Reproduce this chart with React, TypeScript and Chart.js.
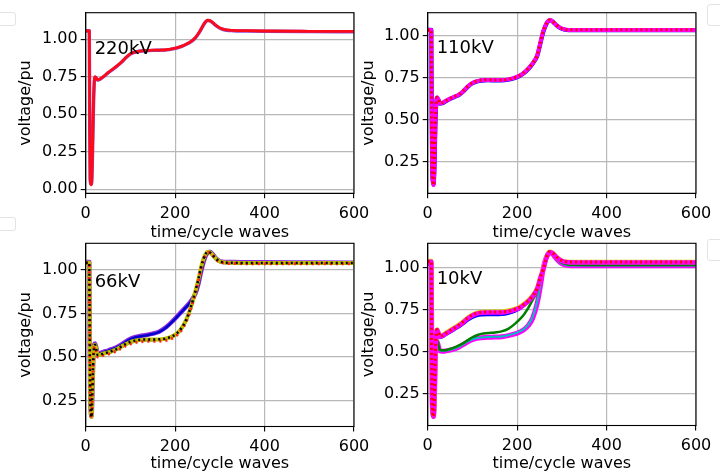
import React, { useEffect, useRef } from "react";
import { Chart, registerables } from "chart.js";

Chart.register(...registerables);

// ---------------- DATA ----------------
const timeCycles = [0, 8, 9, 10, 12, 13, 15, 17, 19, 21, 24, 27, 32, 40, 50, 60, 70, 80, 90, 100, 110, 120, 135, 150, 165, 180, 195, 205, 215, 225, 235, 245, 252, 258, 263, 268, 273, 278, 284, 290, 297, 305, 315, 330, 360, 400, 500, 600];

const xTickValues = [0, 200, 400, 600];
const yTicks220 = [0, 0.25, 0.5, 0.75, 1.0];
const yTicksOther = [0.25, 0.5, 0.75, 1.0];

const panelLabels = ["220kV", "110kV", "66kV", "10kV"];
const panelLabelX = [20, 20, 20, 20];
const panelLabelY = [0.9, 0.9, 0.9, 0.9];

const xTitle = "time/cycle waves";
const yTitle = "voltage/pu";

// 220kV
const v220Violet = [1.057, 1.057, 0.42, 0.07, 0.035, 0.035, 0.2, 0.5, 0.7, 0.745, 0.738, 0.728, 0.733, 0.75, 0.776, 0.798, 0.821, 0.846, 0.876, 0.901, 0.913, 0.92, 0.924, 0.926, 0.927, 0.929, 0.936, 0.943, 0.953, 0.966, 0.983, 1.008, 1.036, 1.066, 1.093, 1.115, 1.125, 1.122, 1.11, 1.094, 1.079, 1.067, 1.06, 1.057, 1.055, 1.053, 1.051, 1.05];
const v220Red = [1.055, 1.055, 0.4, 0.06, 0.03, 0.03, 0.22, 0.52, 0.71, 0.75, 0.74, 0.73, 0.735, 0.752, 0.778, 0.8, 0.823, 0.848, 0.878, 0.903, 0.915, 0.921, 0.925, 0.927, 0.928, 0.93, 0.937, 0.944, 0.954, 0.967, 0.984, 1.01, 1.038, 1.068, 1.095, 1.117, 1.127, 1.124, 1.112, 1.096, 1.081, 1.069, 1.062, 1.059, 1.057, 1.055, 1.053, 1.052];

// 110kV
const v110Blue = [1.037, 1.037, 0.52, 0.21, 0.125, 0.115, 0.21, 0.45, 0.59, 0.63, 0.618, 0.596, 0.598, 0.61, 0.624, 0.636, 0.648, 0.67, 0.698, 0.718, 0.728, 0.734, 0.736, 0.735, 0.735, 0.739, 0.749, 0.76, 0.778, 0.803, 0.836, 0.882, 0.955, 1.02, 1.057, 1.083, 1.094, 1.089, 1.074, 1.059, 1.047, 1.039, 1.035, 1.035, 1.035, 1.035, 1.035, 1.035];
const v110Magenta = [1.036, 1.036, 0.5, 0.2, 0.12, 0.11, 0.22, 0.46, 0.6, 0.635, 0.62, 0.598, 0.6, 0.612, 0.626, 0.638, 0.65, 0.672, 0.7, 0.72, 0.73, 0.736, 0.738, 0.737, 0.737, 0.741, 0.751, 0.762, 0.78, 0.805, 0.838, 0.885, 0.96, 1.025, 1.06, 1.085, 1.095, 1.09, 1.075, 1.06, 1.048, 1.04, 1.036, 1.036, 1.036, 1.036, 1.036, 1.036];
const v110Red = [1.036, 1.036, 0.49, 0.2, 0.12, 0.11, 0.23, 0.47, 0.6, 0.634, 0.62, 0.598, 0.601, 0.613, 0.627, 0.639, 0.651, 0.673, 0.701, 0.721, 0.731, 0.737, 0.739, 0.738, 0.738, 0.742, 0.752, 0.763, 0.781, 0.806, 0.839, 0.886, 0.961, 1.026, 1.061, 1.086, 1.096, 1.091, 1.076, 1.061, 1.049, 1.041, 1.037, 1.037, 1.037, 1.037, 1.037, 1.037];

// 66kV
const v66Violet = [1.045, 1.045, 0.6, 0.3, 0.17, 0.16, 0.3, 0.5, 0.57, 0.578, 0.55, 0.52, 0.522, 0.53, 0.537, 0.547, 0.558, 0.572, 0.59, 0.604, 0.614, 0.62, 0.626, 0.634, 0.647, 0.672, 0.708, 0.735, 0.762, 0.79, 0.82, 0.862, 0.92, 0.99, 1.04, 1.08, 1.1, 1.105, 1.09, 1.07, 1.055, 1.047, 1.045, 1.045, 1.044, 1.044, 1.043, 1.042];
const v66Blue = [1.043, 1.043, 0.62, 0.32, 0.18, 0.17, 0.31, 0.5, 0.565, 0.575, 0.548, 0.518, 0.52, 0.528, 0.535, 0.545, 0.556, 0.57, 0.588, 0.602, 0.612, 0.618, 0.624, 0.632, 0.645, 0.67, 0.706, 0.733, 0.76, 0.788, 0.818, 0.86, 0.918, 0.988, 1.038, 1.078, 1.098, 1.103, 1.088, 1.068, 1.053, 1.045, 1.043, 1.043, 1.042, 1.042, 1.041, 1.04];
const v66Green = [1.041, 1.041, 0.58, 0.29, 0.165, 0.155, 0.29, 0.49, 0.56, 0.568, 0.538, 0.508, 0.51, 0.518, 0.524, 0.533, 0.544, 0.558, 0.573, 0.584, 0.591, 0.595, 0.598, 0.598, 0.6, 0.605, 0.619, 0.636, 0.666, 0.712, 0.782, 0.872, 0.942, 1.012, 1.058, 1.089, 1.103, 1.099, 1.084, 1.067, 1.052, 1.044, 1.041, 1.04, 1.039, 1.039, 1.039, 1.039];
const v66Yellow = [1.042, 1.042, 0.6, 0.3, 0.17, 0.155, 0.3, 0.49, 0.56, 0.57, 0.54, 0.51, 0.512, 0.52, 0.526, 0.535, 0.546, 0.56, 0.575, 0.586, 0.593, 0.597, 0.6, 0.6, 0.601, 0.606, 0.62, 0.638, 0.668, 0.715, 0.785, 0.875, 0.945, 1.015, 1.06, 1.09, 1.104, 1.1, 1.085, 1.068, 1.053, 1.045, 1.042, 1.041, 1.04, 1.04, 1.04, 1.04];
const v66Black = [1.042, 1.042, 0.59, 0.3, 0.168, 0.155, 0.3, 0.49, 0.56, 0.57, 0.54, 0.511, 0.513, 0.521, 0.527, 0.536, 0.547, 0.561, 0.576, 0.587, 0.594, 0.598, 0.601, 0.601, 0.602, 0.607, 0.621, 0.639, 0.669, 0.716, 0.786, 0.876, 0.946, 1.016, 1.061, 1.091, 1.104, 1.1, 1.085, 1.068, 1.053, 1.045, 1.042, 1.041, 1.04, 1.04, 1.04, 1.04];
const v66Red = [1.04, 1.04, 0.58, 0.29, 0.16, 0.15, 0.29, 0.48, 0.55, 0.56, 0.53, 0.5, 0.502, 0.51, 0.516, 0.525, 0.536, 0.55, 0.565, 0.576, 0.583, 0.587, 0.59, 0.59, 0.591, 0.596, 0.61, 0.628, 0.658, 0.705, 0.775, 0.865, 0.935, 1.005, 1.052, 1.085, 1.1, 1.098, 1.083, 1.065, 1.05, 1.042, 1.038, 1.037, 1.036, 1.036, 1.036, 1.036];

// 10kV
const v10MagentaLow = [1.025, 1.025, 0.5, 0.2, 0.12, 0.115, 0.22, 0.44, 0.55, 0.56, 0.53, 0.505, 0.502, 0.503, 0.508, 0.515, 0.527, 0.542, 0.558, 0.57, 0.578, 0.582, 0.585, 0.586, 0.588, 0.595, 0.605, 0.615, 0.63, 0.655, 0.7, 0.79, 0.89, 0.99, 1.045, 1.075, 1.088, 1.085, 1.067, 1.048, 1.03, 1.018, 1.013, 1.012, 1.012, 1.012, 1.012, 1.012];
const v10Cyan = [1.026, 1.026, 0.5, 0.2, 0.12, 0.115, 0.22, 0.44, 0.55, 0.562, 0.532, 0.507, 0.504, 0.505, 0.51, 0.517, 0.529, 0.544, 0.56, 0.572, 0.58, 0.584, 0.587, 0.588, 0.59, 0.597, 0.608, 0.618, 0.634, 0.66, 0.708, 0.8, 0.9, 0.995, 1.047, 1.076, 1.089, 1.085, 1.067, 1.048, 1.03, 1.019, 1.014, 1.013, 1.013, 1.013, 1.013, 1.013];
const v10Green = [1.03, 1.03, 0.5, 0.2, 0.12, 0.115, 0.22, 0.45, 0.56, 0.57, 0.535, 0.51, 0.507, 0.508, 0.515, 0.525, 0.537, 0.55, 0.568, 0.585, 0.597, 0.605, 0.61, 0.614, 0.62, 0.635, 0.665, 0.69, 0.72, 0.76, 0.81, 0.86, 0.92, 0.99, 1.04, 1.075, 1.09, 1.085, 1.068, 1.05, 1.035, 1.025, 1.02, 1.018, 1.017, 1.017, 1.017, 1.017];
const v10Yellow = [1.04, 1.04, 0.5, 0.2, 0.12, 0.11, 0.22, 0.46, 0.6, 0.632, 0.614, 0.593, 0.597, 0.61, 0.627, 0.643, 0.66, 0.68, 0.703, 0.72, 0.731, 0.736, 0.738, 0.738, 0.738, 0.743, 0.754, 0.765, 0.783, 0.805, 0.835, 0.88, 0.944, 0.99, 1.04, 1.08, 1.095, 1.092, 1.077, 1.06, 1.047, 1.038, 1.035, 1.034, 1.034, 1.034, 1.034, 1.034];
const v10Magenta = [1.036, 1.036, 0.5, 0.2, 0.12, 0.11, 0.22, 0.46, 0.6, 0.628, 0.61, 0.588, 0.592, 0.605, 0.622, 0.638, 0.655, 0.675, 0.698, 0.715, 0.726, 0.731, 0.733, 0.733, 0.733, 0.738, 0.749, 0.76, 0.778, 0.8, 0.83, 0.875, 0.94, 0.985, 1.035, 1.078, 1.093, 1.09, 1.075, 1.058, 1.045, 1.036, 1.033, 1.032, 1.032, 1.032, 1.032, 1.032];
const v10Blue = [1.034, 1.034, 0.5, 0.2, 0.12, 0.11, 0.22, 0.46, 0.59, 0.62, 0.6, 0.58, 0.584, 0.596, 0.612, 0.628, 0.644, 0.663, 0.685, 0.7, 0.71, 0.715, 0.717, 0.717, 0.718, 0.724, 0.737, 0.75, 0.77, 0.795, 0.827, 0.872, 0.936, 0.982, 1.032, 1.075, 1.09, 1.087, 1.072, 1.055, 1.042, 1.033, 1.03, 1.029, 1.029, 1.029, 1.029, 1.029];
const v10Red = [1.038, 1.038, 0.49, 0.2, 0.12, 0.11, 0.23, 0.47, 0.6, 0.63, 0.612, 0.59, 0.595, 0.608, 0.625, 0.641, 0.658, 0.678, 0.701, 0.718, 0.729, 0.734, 0.736, 0.736, 0.736, 0.741, 0.752, 0.763, 0.781, 0.803, 0.833, 0.878, 0.942, 0.988, 1.037, 1.08, 1.095, 1.092, 1.077, 1.06, 1.047, 1.038, 1.035, 1.034, 1.034, 1.034, 1.034, 1.034];

// ---------------- RENDERING ----------------
type Series = { data: number[]; color: string; width: number; dash?: number[] };
type Panel = {
  left: number; top: number; w: number; h: number;
  pad: { left: number; right: number; top: number; bottom: number };
  yW: number; xH: number; yMin: number; yMax: number; yTicks: number[];
  idx: number; series: Series[];
};

const FONT = "DejaVu Sans";
const FS = 16;

const panels: Panel[] = [
  {
    left: 0, top: 0, w: 380, h: 250, pad: { left: 16, right: 26, top: 12.7, bottom: 7.5 },
    yW: 69.7, xH: 49.2, yMin: -0.027, yMax: 1.177, yTicks: yTicks220, idx: 0,
    series: [
      { data: v220Violet, color: "#8a4ad0", width: 3.4 },
      { data: v220Red, color: "#ff0a1a", width: 2.8 },
    ],
  },
  {
    left: 350, top: 0, w: 370, h: 250, pad: { left: 9, right: 24, top: 12.7, bottom: 7.5 },
    yW: 68.7, xH: 49.2, yMin: 0.061, yMax: 1.139, yTicks: yTicksOther, idx: 1,
    series: [
      { data: v110Blue, color: "#0000ff", width: 4.2 },
      { data: v110Magenta, color: "#ff00ff", width: 4 },
      { data: v110Red, color: "#ff0000", width: 3, dash: [2, 3] },
    ],
  },
  {
    left: 0, top: 236, w: 380, h: 237, pad: { left: 16, right: 26, top: 7.3, bottom: 0 },
    yW: 69.7, xH: 46.5, yMin: 0.101, yMax: 1.153, yTicks: yTicksOther, idx: 2,
    series: [
      { data: v66Violet, color: "#8a2be2", width: 4.5 },
      { data: v66Blue, color: "#0000cd", width: 2.5 },
      { data: v66Green, color: "#008000", width: 3 },
      { data: v66Yellow, color: "#bfbf00", width: 4 },
      { data: v66Red, color: "#ff2020", width: 3, dash: [2, 4] },
      { data: v66Black, color: "#000000", width: 2.5, dash: [2, 3] },
    ],
  },
  {
    left: 350, top: 236, w: 370, h: 237, pad: { left: 9, right: 24, top: 7.3, bottom: 0 },
    yW: 68.7, xH: 47.5, yMin: 0.058, yMax: 1.146, yTicks: yTicksOther, idx: 3,
    series: [
      { data: v10MagentaLow, color: "#ff00ff", width: 5 },
      { data: v10Cyan, color: "#00bfbf", width: 2 },
      { data: v10Green, color: "#008000", width: 2.5 },
      { data: v10Yellow, color: "#d4d400", width: 4.5 },
      { data: v10Blue, color: "#0000ff", width: 2.2 },
      { data: v10Magenta, color: "#ff00ff", width: 4.5 },
      { data: v10Red, color: "#ff0000", width: 3, dash: [2, 3] },
    ],
  },
];

const framePlugin = {
  id: "frameAndLabel",
  afterDatasetsDraw(chart: any, _args: any, opts: any) {
    const { ctx, chartArea: a, scales } = chart;
    ctx.save();
    ctx.strokeStyle = "#000";
    ctx.lineWidth = 1.1;
    ctx.strokeRect(a.left, a.top, a.right - a.left, a.bottom - a.top);
    if (opts && opts.text) {
      const px = scales.x.getPixelForValue(opts.x);
      const py = scales.y.getPixelForValue(opts.y);
      ctx.fillStyle = "#000";
      ctx.font = `18px "${FONT}"`;
      ctx.textAlign = "left";
      ctx.textBaseline = "alphabetic";
      ctx.fillText(opts.text, px, py);
    }
    ctx.restore();
  },
};

function PanelChart({ p }: { p: Panel }) {
  const ref = useRef<HTMLCanvasElement | null>(null);
  useEffect(() => {
    if (!ref.current) return;
    const n = p.series.length;
    const chart = new Chart(ref.current, {
      type: "line",
      data: {
        labels: timeCycles,
        datasets: p.series.map((s, i) => ({
          data: timeCycles.map((t, k) => ({ x: t, y: s.data[k] })),
          borderColor: s.color,
          borderWidth: s.width,
          borderDash: s.dash || [],
          pointRadius: 0,
          fill: false,
          cubicInterpolationMode: "monotone",
          order: n - i,
          borderCapStyle: "butt",
          borderJoinStyle: "round",
        })),
      },
      options: {
        responsive: false,
        animation: false,
        events: [],
        layout: { padding: p.pad },
        plugins: {
          legend: { display: false },
          tooltip: { enabled: false },
          frameAndLabel: { text: panelLabels[p.idx], x: panelLabelX[p.idx], y: panelLabelY[p.idx] },
        } as any,
        scales: {
          x: {
            type: "linear",
            min: 0,
            max: 600,
            afterBuildTicks: (sc: any) => { sc.ticks = xTickValues.map((v) => ({ value: v })); },
            afterFit: (sc: any) => {
              sc.height = p.xH; sc.paddingLeft = 0; sc.paddingRight = 0; sc.paddingTop = 0; sc.paddingBottom = 0;
            },
            ticks: {
              color: "#000",
              font: { family: FONT, size: FS, lineHeight: 1.2 },
              padding: 6,
              maxRotation: 0,
              autoSkip: false,
              callback: (v: any) => String(v),
            },
            grid: { color: "#b8b8b8", lineWidth: 1.2, tickColor: "#000", tickLength: 5, tickWidth: 1.1 },
            border: { display: true, color: "#000", width: 1.1 },
            title: { display: true, text: xTitle, color: "#000", font: { family: FONT, size: FS, lineHeight: 1.2 }, padding: 0 },
          },
          y: {
            type: "linear",
            min: p.yMin,
            max: p.yMax,
            afterBuildTicks: (sc: any) => { sc.ticks = p.yTicks.map((v) => ({ value: v })); },
            afterFit: (sc: any) => {
              sc.width = p.yW; sc.paddingLeft = 0; sc.paddingRight = 0; sc.paddingTop = 0; sc.paddingBottom = 0;
            },
            ticks: {
              color: "#000",
              font: { family: FONT, size: FS, lineHeight: 1.2 },
              padding: 3,
              autoSkip: false,
              callback: (v: any) => Number(v).toFixed(2),
            },
            grid: { color: "#b8b8b8", lineWidth: 1.2, tickColor: "#000", tickLength: 5, tickWidth: 1.1 },
            border: { display: true, color: "#000", width: 1.1 },
            title: { display: true, text: yTitle, color: "#000", font: { family: FONT, size: FS, lineHeight: 1.2 }, padding: 0 },
          },
        },
      } as any,
      plugins: [framePlugin],
    });
    return () => chart.destroy();
  }, [p]);
  return (
    <canvas
      ref={ref}
      width={p.w}
      height={p.h}
      style={{ position: "absolute", left: p.left, top: p.top, width: p.w, height: p.h }}
    />
  );
}

const legendStub = (left: number, top: number, w: number, h: number) => ({
  position: "absolute" as const,
  left,
  top,
  width: w,
  height: h,
  border: "1px solid #e3e3e3",
  borderRadius: 3,
  boxSizing: "border-box" as const,
});

export default function App() {
  return (
    <div style={{ position: "absolute", left: 0, top: 0, width: 720, height: 473, overflow: "hidden", background: "#fff" }}>
      <div style={legendStub(-20, 12, 36, 14)} />
      <div style={legendStub(-20, 217, 36, 14)} />
      <div style={legendStub(707, 4, 30, 22)} />
      <div style={legendStub(707, 239, 30, 22)} />
      {panels.map((p, i) => (
        <PanelChart key={i} p={p} />
      ))}
    </div>
  );
}
